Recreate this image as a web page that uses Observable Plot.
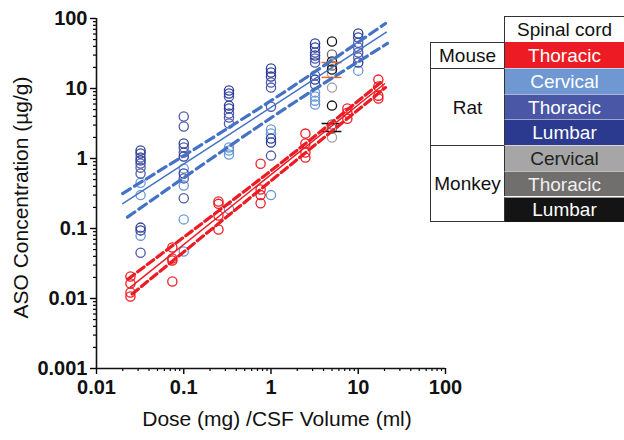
<!DOCTYPE html>
<html><head><meta charset="utf-8">
<script src="https://cdn.jsdelivr.net/npm/d3@7"></script>
<script src="https://cdn.jsdelivr.net/npm/@observablehq/plot@0.6"></script>
<style>
body{margin:0;background:#fff;}
#wrap{position:relative;width:624px;height:440px;overflow:hidden;font-family:"Liberation Sans",Arial,sans-serif;}
.cell{position:absolute;box-sizing:border-box;display:flex;align-items:center;justify-content:center;font-size:19px;line-height:1;}
</style></head><body><div id="wrap"></div>
<script>
// ---- tick labels & titles ----
const xTicks=[0.01,0.1,1,10,100];
const xTickLabels=["0.01","0.1","1","10","100"];
const yTicks=[0.001,0.01,0.1,1,10,100];
const yTickLabels=["0.001","0.01","0.1","1","10","100"];
const xTitle="Dose (mg) /CSF Volume (ml)";
const yTitle="ASO Concentration (µg/g)";

// ---- mouse (thoracic) ----
const mouseDoses=[0.0245,0.074,0.25,0.76,2.48,7.5,17];
const mouseThoracic=[[0.0206,0.0164,0.0122,0.0107],[0.0535,0.0373,0.035,0.0175],[0.243,0.225,0.153,0.097],[0.84,0.36,0.30,0.23],[2.27,1.64,1.22,1.03],[5.2,4.5,3.7],[13.4,10.7,7.9,7.2]];

// ---- rat ----
const ratDoses=[0.032,0.1,0.33,1,3.2,10];
const ratCervical=[[0.45,0.30,0.079],[0.72,0.41,0.135,0.047],[1.44,1.30,1.14,0.19],[2.6,2.28,0.30],[8.8,7.7,6.7,5.9],[18]];
const ratThoracic=[[1.03,0.85,0.74,0.61,0.045],[3.98,2.87,1.44,1.22,0.52,0.27],[7.7,4.4,3.85,3.16],[12.2,10.3,5.5,1.10],[32.7,26.8,23.5,15.3,11.4],[45,38.5,32.7,27.7]];
const ratLumbar=[[1.30,1.18,0.94,0.103,0.094],[1.64,1.07,0.61],[9.36,8.48,5.7,5.2],[19.3,16.9,14.8,1.93,1.69],[44,38.5,29.6,13.4],[61,53.5,23.5]];

// ---- monkey ----
const monkeyDose=5;
const monkeyCervical=[16.4,10.3,2.0];
const monkeyThoracic=[30.6,21.3,3.06,2.68];
const monkeyLumbar=[47,24.3,18.7,5.7];
const monkeyBarsOrange=[23.5,14.4];
const monkeyBarsBlack=[3.16,2.43];

// ---- regression lines and bands ----
const ratFit=[{x:0.02,y:0.226},{x:21,y:63.7}];
const ratUpper=[{x:0.0199,y:0.316},{x:1,y:6.7},{x:20.5,y:85}];
const ratLower=[{x:0.0226,y:0.145},{x:1,y:3.8},{x:21.6,y:44}];
const mouseFit=[{x:0.0245,y:0.0145},{x:20,y:11.7}];
const mouseUpper=[{x:0.023,y:0.019},{x:1,y:0.67},{x:19.3,y:13}];
const mouseLower=[{x:0.0256,y:0.0116},{x:1,y:0.48},{x:20.5,y:10.3}];

// ---- legend ----
const seriesNames=["Mouse Thoracic","Rat Cervical","Rat Thoracic","Rat Lumbar","Monkey Cervical","Monkey Thoracic","Monkey Lumbar"];
const dotColors=["#ed1c24","#6a98d6","#4f5aab","#2e3f98","#a3a3a3","#6c6c6c","#141414"];
const legendHeader="Spinal cord";
const legendSpecies=[["Mouse",1],["Rat",3],["Monkey",3]];
const legendTissues=["Thoracic","Cervical","Thoracic","Lumbar","Cervical","Thoracic","Lumbar"];
const legendFills=["#ed1c24","#6f97d1","#4a56a6","#2b3a8f","#a6a6a6","#716e6e","#141414"];
const legendText=["#fff","#fff","#fff","#fff","#222","#f0f0f0","#fff"];

function expand(doses, groups, series){
  return groups.flatMap((vals,i)=>vals.map(v=>({x:doses[i], y:v, series})));
}
const points=[
  ...expand(ratDoses, ratCervical, "Rat Cervical"),
  ...expand(ratDoses, ratThoracic, "Rat Thoracic"),
  ...expand(ratDoses, ratLumbar, "Rat Lumbar"),
  ...expand(mouseDoses, mouseThoracic, "Mouse Thoracic"),
  ...monkeyCervical.map(v=>({x:monkeyDose,y:v,series:"Monkey Cervical"})),
  ...monkeyThoracic.map(v=>({x:monkeyDose,y:v,series:"Monkey Thoracic"})),
  ...monkeyLumbar.map(v=>({x:monkeyDose,y:v,series:"Monkey Lumbar"}))
];

const xLab=new Map(xTicks.map((d,i)=>[d,xTickLabels[i]]));
const yLab=new Map(yTicks.map((d,i)=>[d,yTickLabels[i]]));
const xMinor=xTicks.slice(0,-1).flatMap(d=>[2,3,4,5,6,7,8,9].map(k=>d*k));
const yMinor=yTicks.slice(0,-1).flatMap(d=>[2,3,4,5,6,7,8,9].map(k=>d*k));

const blue="#4472c4", red="#ed1c24";
const chart=Plot.plot({
  width:624, height:440,
  marginLeft:96, marginRight:179, marginTop:18, marginBottom:72,
  style:{fontFamily:"'Liberation Sans',Arial,sans-serif", fontSize:"20px", background:"transparent", overflow:"visible"},
  x:{type:"log", domain:[0.01,100]},
  y:{type:"log", domain:[0.001,100]},
  color:{domain:seriesNames, range:dotColors},
  marks:[
    Plot.axisX({ticks:xMinor, tickSize:3, tickFormat:()=>"", label:null, strokeWidth:1.2}),
    Plot.axisY({ticks:yMinor, tickSize:3, tickFormat:()=>"", label:null, strokeWidth:1.2}),
    Plot.axisX({ticks:xTicks, tickSize:6, tickPadding:5, tickFormat:d=>xLab.get(d), label:null, fontWeight:"bold", fontSize:20, strokeWidth:1.4, fill:"#111"}),
    Plot.axisY({ticks:yTicks, tickSize:6, tickPadding:3, tickFormat:d=>yLab.get(d), label:null, fontWeight:"bold", fontSize:20, strokeWidth:1.4, fill:"#111"}),
    Plot.ruleX([0.01],{strokeWidth:1.6, stroke:"#111"}),
    Plot.ruleY([0.001],{strokeWidth:1.6, stroke:"#111"}),
    Plot.text([xTitle],{frameAnchor:"bottom", textAnchor:"middle", dx:6, dy:57, fontSize:21, fill:"#111"}),
    Plot.text([yTitle],{frameAnchor:"left", textAnchor:"middle", rotate:-90, dx:-75, dy:4, fontSize:21, fill:"#111"}),
    Plot.dot(points,{x:"x", y:"y", stroke:"series", r:4.6, strokeWidth:1.3, fill:"none"}),
    Plot.ruleY(monkeyBarsOrange,{y:d=>d, x1:monkeyDose/1.3, x2:monkeyDose*1.3, stroke:"#f26522", strokeWidth:1.5}),
    Plot.ruleY(monkeyBarsBlack,{y:d=>d, x1:monkeyDose/1.3, x2:monkeyDose*1.3, stroke:"#111", strokeWidth:1.5}),
    Plot.line(ratFit,{x:"x", y:"y", stroke:blue, strokeWidth:1.5}),
    Plot.line(ratUpper,{x:"x", y:"y", stroke:blue, strokeWidth:3.2, strokeDasharray:"9,5", curve:"natural"}),
    Plot.line(ratLower,{x:"x", y:"y", stroke:blue, strokeWidth:3.2, strokeDasharray:"9,5", curve:"natural"}),
    Plot.line(mouseFit,{x:"x", y:"y", stroke:red, strokeWidth:1.5}),
    Plot.line(mouseUpper,{x:"x", y:"y", stroke:red, strokeWidth:3.2, strokeDasharray:"8,4", curve:"natural"}),
    Plot.line(mouseLower,{x:"x", y:"y", stroke:red, strokeWidth:3.2, strokeDasharray:"8,4", curve:"natural"})
  ]
});
const wrap=document.getElementById("wrap");
wrap.appendChild(chart);
chart.style.position="absolute"; chart.style.left="0"; chart.style.top="0";

// legend table (HTML)
const L0=430, L1=504, R=624, top0=16, headH=26.3, rowH=25.7;
function cell(left,top,w,h,text,styles){
  const d=document.createElement("div");
  d.className="cell";
  d.style.left=left+"px"; d.style.top=top+"px"; d.style.width=w+"px"; d.style.height=h+"px";
  d.textContent=text;
  Object.assign(d.style,styles||{});
  wrap.appendChild(d);
}
const bd="1.6px solid #333";
cell(L1,top0,R-L1,headH,legendHeader,{borderTop:bd,borderLeft:bd,color:"#111"});
const rowsTop=top0+headH;
legendTissues.forEach((t,i)=>{
  cell(L1,rowsTop+i*rowH,R-L1,rowH,t,{background:legendFills[i],color:legendText[i],borderLeft:bd,
    borderTop:i>0?"1px solid rgba(255,255,255,0.55)":"none"});
});
let r=0;
legendSpecies.forEach(([name,n],k)=>{
  cell(L0,rowsTop+r*rowH,L1-L0,n*rowH,name,{borderLeft:bd,borderTop:bd,borderBottom:k===legendSpecies.length-1?bd:"none",color:"#111",background:"#fff"});
  r+=n;
});
</script></body></html>
